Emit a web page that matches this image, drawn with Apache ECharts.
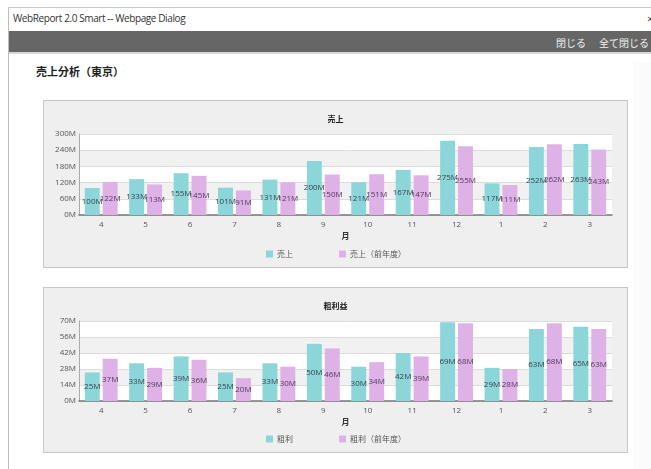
<!DOCTYPE html>
<html><head><meta charset="utf-8">
<script src="https://cdn.jsdelivr.net/npm/echarts@6/dist/echarts.min.js"></script>
<style>
html,body{margin:0;padding:0;width:651px;height:469px;overflow:hidden;background:#fff;font-family:'Open Sans','Noto Sans CJK JP',sans-serif;}
#win{position:absolute;left:8px;top:7px;width:660px;height:470px;border-left:1px solid #bdbdbd;border-top:1px solid #c8c8c8;background:#fff;}
#ttl{position:absolute;left:4px;top:3px;font-size:10px;letter-spacing:-0.4px;color:#333;}
#close{position:absolute;left:638px;top:3px;font-size:11px;color:#444;}
#bar{position:absolute;left:0;top:23px;width:660px;height:21px;background:#666;border-bottom:2px solid #d8d8d8;}
#bar span{position:absolute;top:4px;font-size:10px;color:#f0f0f0;font-family:'Noto Sans CJK JP',sans-serif;}
#head{position:absolute;left:27px;top:55px;font-size:11px;font-weight:bold;color:#222;font-family:'Noto Sans CJK JP',sans-serif;}
#scroll{position:absolute;left:624px;top:54px;width:30px;height:420px;background:#fbfbfb;}
.panel{position:absolute;left:43px;width:583px;border:1px solid #c6c6c6;background:#efefef;}
</style></head>
<body>
<div id="win">
  <div id="ttl">WebReport 2.0 Smart -&#8203;- Webpage Dialog</div>
  <div id="close">×</div>
  <div id="bar"><span style="left:547px">閉じる</span><span style="left:590px">全て閉じる</span></div>
  <div id="scroll"></div>
  <div id="head">売上分析（東京）</div>
</div>
<div class="panel" id="p1" style="top:100px;height:166px;"></div>
<div class="panel" id="p2" style="top:287px;height:164px;"></div>
<script>
const months = ['4','5','6','7','8','9','10','11','12','1','2','3'];
const sales = [100,133,155,101,131,200,121,167,275,117,252,263];
const salesPrev = [122,113,145,91,121,150,151,147,255,111,262,243];
const profit = [25,33,39,25,33,50,30,42,69,29,63,65];
const profitPrev = [37,29,36,20,30,46,34,39,68,28,68,63];
const salesTicks = {min:0,max:300,interval:60};
const profitTicks = {min:0,max:70,interval:14};

const FONT = "'Open Sans','Noto Sans CJK JP',sans-serif";
const TEAL = '#8cd6da', PINK = '#dfb2e7';

function makeOpt(title, names, a, b, ticks, gridBottom, legendTop){
  return {
    animation:false,
    textStyle:{fontFamily:FONT},
    title:{text:title,left:'center',top:9,textStyle:{fontSize:8,fontWeight:'bold',color:'#222',fontFamily:"'Noto Sans CJK JP',sans-serif"}},
    legend:{left:217,top:legendTop,itemWidth:7,itemHeight:7,itemGap:46,icon:'rect',
      textStyle:{fontSize:8,color:'#555',padding:[0,0,0,-1],fontFamily:"'Noto Sans CJK JP',sans-serif"},
      data:names},
    grid:{left:35,right:15,top:33,bottom:gridBottom,containLabel:false},
    xAxis:{type:'category',data:months,name:'月',nameLocation:'middle',nameGap:17,
      nameTextStyle:{fontSize:8,fontWeight:'bold',color:'#333',fontFamily:"'Noto Sans CJK JP',sans-serif"},
      axisLine:{lineStyle:{color:'#777',width:1.5}},axisTick:{show:false},
      axisLabel:{fontSize:8,color:'#555',margin:6}},
    yAxis:{type:'value',min:ticks.min,max:ticks.max,interval:ticks.interval,
      axisLine:{show:true,lineStyle:{color:'#aaa'}},axisTick:{show:false},
      axisLabel:{fontSize:8,color:'#555',margin:3,formatter:'{value}M'},
      splitLine:{lineStyle:{color:'#dcdcdc'}},
      splitArea:{show:true,areaStyle:{color:['#ffffff','#f1f1f1']}}},
    series:[
      {name:names[0],type:'bar',data:a,barGap:'20%',barCategoryGap:'26%',itemStyle:{color:TEAL},
       label:{show:true,position:'inside',fontSize:8,color:'#34444e',formatter:'{c}M'}},
      {name:names[1],type:'bar',data:b,itemStyle:{color:PINK},
       label:{show:true,position:'inside',fontSize:8,color:'#52385a',formatter:'{c}M'}}
    ]
  };
}
const c1 = echarts.init(document.getElementById('p1'),null,{renderer:'canvas'});
c1.setOption(makeOpt('売上',['売上','売上（前年度）'],sales,salesPrev,salesTicks,52,144));
const c2 = echarts.init(document.getElementById('p2'),null,{renderer:'canvas'});
c2.setOption(makeOpt('粗利益',['粗利','粗利（前年度）'],profit,profitPrev,profitTicks,51,142));
</script>
</body></html>
